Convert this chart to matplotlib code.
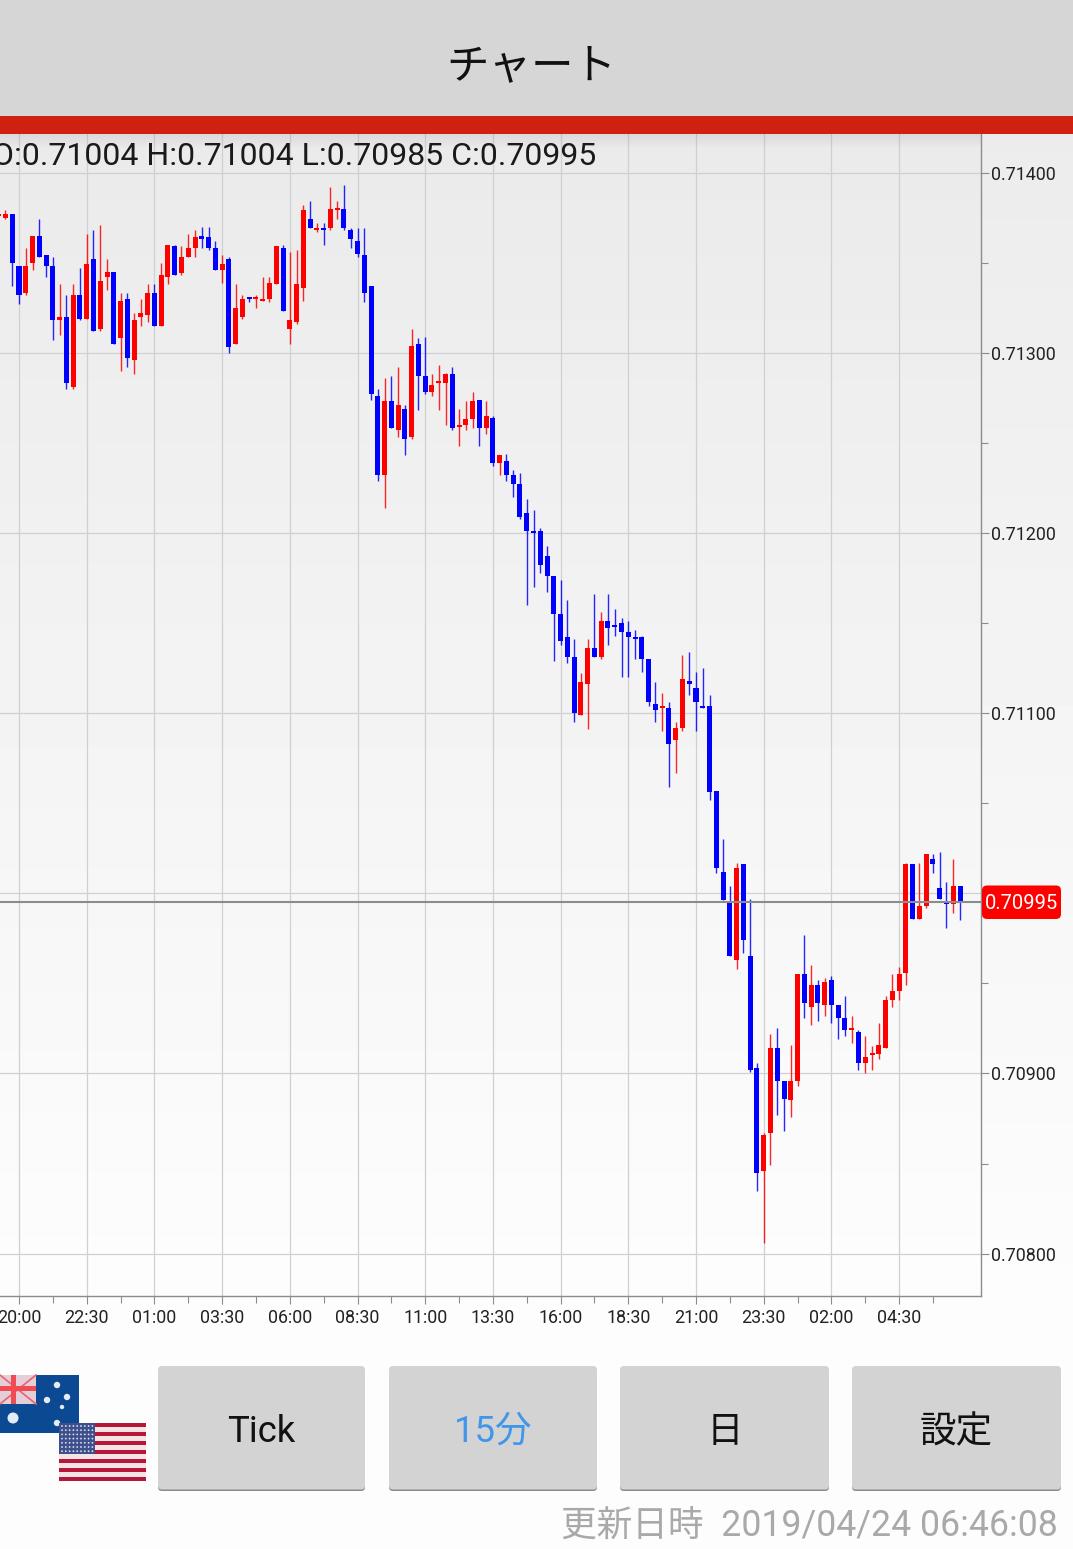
import numpy as np
import matplotlib
matplotlib.use("Agg")
import matplotlib.pyplot as plt
from matplotlib.patches import FancyBboxPatch, Rectangle, Circle

plt.rcParams["font.family"] = ["Roboto", "Noto Sans CJK JP", "DejaVu Sans"]

# AUD/USD 15 minute candles, in 0.00001 units. Index 3 is the 20:00 candle
opens = [
    71376, 71375, 71377, 71348, 71333, 71350, 71365, 71354, 71348, 71318,
    71320, 71281, 71332, 71319, 71352, 71313, 71342, 71345, 71308, 71330,
    71296, 71320, 71321, 71333, 71315, 71342, 71359, 71344, 71353, 71358,
    71365, 71364, 71358, 71346, 71352, 71305, 71320, 71331, 71330, 71329,
    71330, 71338, 71358, 71313, 71317, 71336, 71374, 71368, 71369, 71369,
    71379, 71380, 71368, 71362, 71354, 71337, 71276, 71232, 71273, 71257,
    71269, 71253, 71305, 71287, 71278, 71283, 71283, 71288, 71259, 71260,
    71263, 71274, 71258, 71264, 71239, 71240, 71232, 71227, 71211, 71201,
    71201, 71187, 71176, 71155, 71142, 71131, 71099, 71116, 71136, 71131,
    71151, 71149, 71150, 71145, 71142, 71142, 71130, 71105, 71103, 71103,
    71085, 71092, 71118, 71114, 71104, 71104, 71057, 71012, 70995, 70963,
    71016, 70965, 70903, 70846, 70867, 70914, 70896, 70885, 70896, 70955,
    70937, 70949, 70938, 70952, 70938, 70931, 70924, 70923, 70906, 70910,
    70911, 70914, 70941, 70946, 70956, 71016, 70986, 70993, 71019, 71003,
    70995, 70994, 71004,
]
highs = [
    71377, 71379, 71377, 71348, 71358, 71365, 71374, 71354, 71353, 71338,
    71332, 71338, 71347, 71366, 71368, 71371, 71352, 71345, 71333, 71333,
    71322, 71330, 71338, 71338, 71350, 71360, 71360, 71359, 71366, 71368,
    71370, 71370, 71362, 71354, 71353, 71338, 71332, 71331, 71332, 71342,
    71342, 71359, 71360, 71356, 71357, 71382, 71384, 71372, 71372, 71392,
    71384, 71393, 71369, 71369, 71369, 71337, 71280, 71286, 71287, 71292,
    71271, 71313, 71308, 71309, 71288, 71293, 71289, 71292, 71269, 71273,
    71278, 71274, 71273, 71265, 71243, 71244, 71235, 71233, 71219, 71213,
    71203, 71193, 71176, 71174, 71163, 71141, 71122, 71141, 71166, 71156,
    71166, 71158, 71153, 71151, 71146, 71143, 71130, 71117, 71111, 71106,
    71095, 71132, 71134, 71123, 71125, 71110, 71057, 71030, 71004, 71017,
    71016, 70997, 70906, 70867, 70922, 70925, 70896, 70916, 70955, 70977,
    70960, 70952, 70953, 70954, 70938, 70943, 70932, 70924, 70921, 70915,
    70928, 70943, 70955, 70959, 71017, 71016, 71017, 71022, 71022, 71023,
    71006, 71019, 71004,
]
lows = [
    71376, 71374, 71337, 71327, 71332, 71346, 71353, 71342, 71307, 71310,
    71280, 71280, 71318, 71319, 71312, 71312, 71335, 71305, 71290, 71292,
    71288, 71315, 71317, 71315, 71315, 71338, 71343, 71343, 71353, 71353,
    71358, 71357, 71346, 71339, 71300, 71305, 71319, 71328, 71325, 71329,
    71328, 71338, 71323, 71305, 71316, 71329, 71369, 71367, 71360, 71368,
    71374, 71368, 71358, 71353, 71328, 71274, 71229, 71214, 71258, 71253,
    71243, 71252, 71268, 71277, 71276, 71268, 71260, 71257, 71248, 71257,
    71258, 71248, 71255, 71237, 71232, 71229, 71220, 71208, 71160, 71170,
    71178, 71167, 71129, 71138, 71128, 71095, 71099, 71091, 71131, 71130,
    71138, 71143, 71120, 71120, 71130, 71123, 71104, 71095, 71090, 71059,
    71067, 71090, 71110, 71090, 71103, 71052, 71011, 70996, 70965, 70958,
    70967, 70901, 70835, 70806, 70849, 70877, 70868, 70876, 70893, 70931,
    70927, 70929, 70932, 70928, 70919, 70921, 70917, 70902, 70900, 70902,
    70908, 70914, 70937, 70941, 70949, 70986, 70986, 70992, 71011, 70997,
    70981, 70989, 70985,
]
closes = [
    71377, 71377, 71350, 71332, 71348, 71365, 71353, 71348, 71318, 71320,
    71283, 71332, 71319, 71349, 71312, 71340, 71345, 71305, 71329, 71297,
    71318, 71322, 71333, 71315, 71343, 71360, 71343, 71353, 71358, 71364,
    71363, 71358, 71346, 71349, 71303, 71325, 71330, 71330, 71331, 71329,
    71339, 71359, 71323, 71318, 71338, 71379, 71369, 71369, 71368, 71380,
    71380, 71369, 71363, 71355, 71333, 71277, 71232, 71273, 71258, 71271,
    71252, 71304, 71287, 71278, 71282, 71283, 71288, 71258, 71260, 71263,
    71273, 71258, 71265, 71239, 71243, 71232, 71227, 71209, 71201, 71200,
    71182, 71176, 71155, 71140, 71131, 71100, 71117, 71136, 71131, 71151,
    71147, 71148, 71145, 71142, 71141, 71130, 71106, 71102, 71104, 71083,
    71092, 71119, 71116, 71106, 71103, 71056, 71014, 70996, 70965, 71014,
    70974, 70902, 70845, 70866, 70914, 70896, 70886, 70896, 70955, 70939,
    70949, 70939, 70951, 70938, 70931, 70924, 70925, 70906, 70909, 70911,
    70916, 70941, 70946, 70955, 71016, 70986, 70993, 71022, 71016, 70997,
    70994, 71004, 70995,
]

time_labels = ["20:00", "22:30", "01:00", "03:30", "06:00", "08:30", "11:00",
               "13:30", "16:00", "18:30", "21:00", "23:30", "02:00", "04:30"]
price_ticks = [0.708, 0.709, 0.710, 0.711, 0.712, 0.713, 0.714]
price_labels = ["0.70800", "0.70900", "", "0.71100", "0.71200", "0.71300", "0.71400"]
buttons = ["Tick", "15分", "日", "設定"]
last_price = "0.70995"
ohlc_text = "O:0.71004 H:0.71004 L:0.70985 C:0.70995"
updated_text = "更新日時  2019/04/24 06:46:08"

W, H = 1073, 1549
fig = plt.figure(figsize=(W / 100, H / 100), dpi=100, facecolor="#fdfdfd")


def pixel_axes(zorder):
    a = fig.add_axes([0, 0, 1, 1], zorder=zorder)
    a.set_xlim(0, W)
    a.set_ylim(H, 0)
    a.axis("off")
    a.patch.set_alpha(0)
    return a


# chart background gradient
bg = pixel_axes(0)
shade = np.linspace(0.918, 0.992, 256).reshape(-1, 1)
bg.imshow(shade, cmap="gray", vmin=0, vmax=1, extent=(0, 981, 1296, 134), aspect="auto")
right_shade = np.linspace(0.925, 0.99, 256).reshape(-1, 1)
bg.imshow(right_shade, cmap="gray", vmin=0, vmax=1, extent=(981, W, 1296, 134), aspect="auto")
bg.set_xlim(0, W)
bg.set_ylim(H, 0)

# candles
x = np.arange(len(opens)) - 3
o = np.array(opens) / 1e5
h = np.array(highs) / 1e5
l = np.array(lows) / 1e5
c = np.array(closes) / 1e5
up = c >= o
colors = np.where(up, "#ff0000", "#0000ff")

x0, dx = 19.0, 6.77
ax = fig.add_axes([0, 1 - 1296 / H, 981 / W, (1296 - 134) / H], zorder=1)
ax.patch.set_alpha(0)
ax.set_xlim(-x0 / dx, (981 - x0) / dx)
ax.set_ylim(0.714 - 1123.4 / 180170, 0.714 + 38.6 / 180170)

ax.set_xticks(np.arange(0, 140, 10))
ax.set_xticklabels(time_labels)
ax.set_xticks(np.arange(5, 140, 10), minor=True)
ax.yaxis.tick_right()
ax.set_yticks(price_ticks)
ax.set_yticklabels(price_labels)
ax.set_yticks(np.arange(0.7085, 0.714, 0.001), minor=True)
ax.tick_params(axis="both", which="major", length=6, width=0.8, color="#8c8c8c",
               labelsize=12.9, labelcolor="#222222")
ax.tick_params(axis="x", which="major", pad=3.5)
ax.tick_params(axis="y", which="major", pad=1)
ax.tick_params(axis="both", which="minor", length=5, width=0.8, color="#8c8c8c")
ax.grid(True, which="major", color="#d0d0d0", linewidth=0.9)
ax.set_axisbelow(True)
for side in ["left", "top"]:
    ax.spines[side].set_visible(False)
for side in ["right", "bottom"]:
    ax.spines[side].set_color("#8c8c8c")
    ax.spines[side].set_linewidth(1.0)

ax.vlines(x, l, h, colors=colors, linewidth=1.0, alpha=0.85, zorder=3)
body_h = np.maximum(np.abs(c - o), 1.1e-5)
ax.bar(x, body_h, bottom=np.minimum(o, c), width=0.74, color=colors, linewidth=0, zorder=4)
ax.axhline(c[-1], color="#8c8c8c", linewidth=1.5, zorder=5)

# app chrome
ui = pixel_axes(2)
ui.add_patch(Rectangle((0, 0), W, 116, fc="#d6d6d6", ec="none"))
ui.add_patch(Rectangle((0, 116), W, 18, fc="#cf2012", ec="none"))
for k in range(14):
    ui.add_patch(Rectangle((0, 134 + k), 981, 1, fc="#000000", ec="none", alpha=0.07 * (1 - k / 14)))
ui.text(531, 66, "チャート", ha="center", va="center", fontsize=30.6, color="#111111",
        family=["Noto Sans CJK JP"])
ui.text(596, 156, ohlc_text, ha="right", va="center", fontsize=23.05, color="#1a1a1a")

# last price flag
ui.add_patch(FancyBboxPatch((982, 885.5), 79, 33.5, boxstyle="round,pad=0,rounding_size=5",
                            fc="#ff0000", ec="none"))
ui.text(1021.5, 903.5, last_price, ha="center", va="center", fontsize=14.5, color="white")

# buttons
button_x = [(158, 365), (389, 597), (620, 829), (852, 1061)]
button_colors = ["#111111", "#3f97ea", "#111111", "#111111"]
for (xa, xb), label, col in zip(button_x, buttons, button_colors):
    ui.add_patch(FancyBboxPatch((xa, 1368), xb - xa, 123, boxstyle="round,pad=0,rounding_size=4",
                                fc="#8a8a8a", ec="none"))
    ui.add_patch(FancyBboxPatch((xa, 1366), xb - xa, 123.5, boxstyle="round,pad=0,rounding_size=4",
                                fc="#d3d3d3", ec="none"))
    ui.text((xa + xb) / 2, 1432, label, ha="center", va="center", fontsize=26.3, color=col)

ui.text(1058, 1526, updated_text, ha="right", va="center", fontsize=25.7, color="#a9a9a9")

# Australian flag
ui.add_patch(Rectangle((0, 1375), 79, 58, fc="#0b4a92", ec="none", zorder=3))
ui.add_patch(Rectangle((0, 1375), 36, 29, fc="#e3cfd8", ec="none", zorder=3))
ui.plot([0, 36], [1375, 1404], color="#f0606a", lw=1.2, zorder=3)
ui.plot([0, 36], [1404, 1375], color="#f0606a", lw=1.2, zorder=3)
ui.add_patch(Rectangle((0, 1386), 36, 5, fc="#f04a55", ec="none", zorder=3))
ui.add_patch(Rectangle((11, 1375), 5, 29, fc="#f04a55", ec="none", zorder=3))
for sx, sy, r in [(57, 1385, 3.2), (47, 1400, 3.2), (67, 1397, 3.2), (62, 1407, 2.2),
                  (57, 1423, 3.2), (13, 1418, 5.5)]:
    ui.add_patch(Circle((sx, sy), r, fc="#e6ecf5", ec="none", zorder=3))

# US flag
for k in range(13):
    col = "#b5173a" if k % 2 == 0 else "#f6e3e6"
    ui.add_patch(Rectangle((59, 1423 + k * 58 / 13), 87, 58 / 13 + 0.3, fc=col, ec="none", zorder=4))
ui.add_patch(Rectangle((59, 1423), 36, 31, fc="#3d4f8c", ec="none", zorder=4))
for row in range(7):
    for col in range(9):
        ui.add_patch(Circle((62 + col * 3.8, 1426 + row * 4.2), 0.9, fc="#dfe3ef", ec="none", zorder=4))

fig.savefig("out.png", dpi=100, facecolor=fig.get_facecolor())
